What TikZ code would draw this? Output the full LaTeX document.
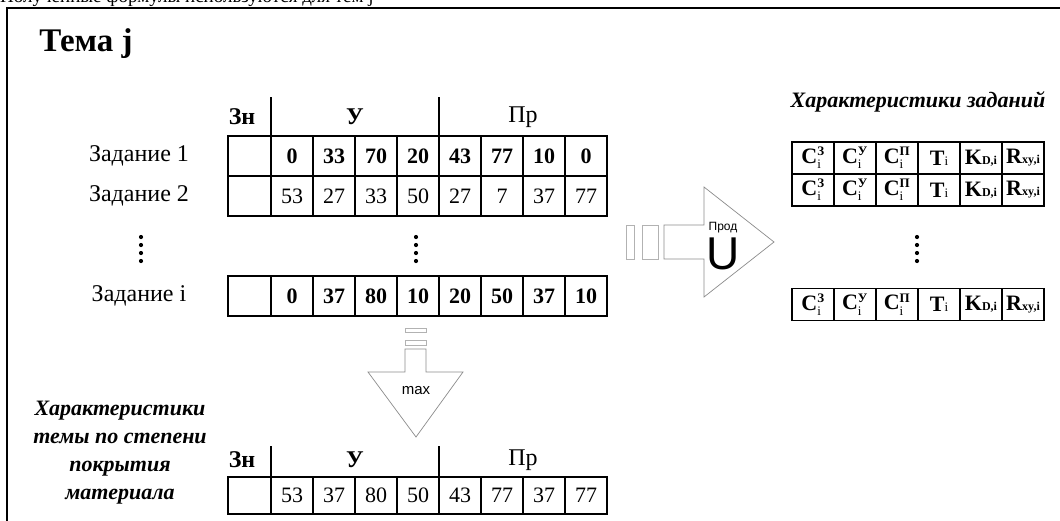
\documentclass[tikz,border=0pt]{standalone}
\usepackage{fontspec}
\setmainfont{Liberation Serif}
\newfontfamily\sansf{Liberation Sans}
\newcommand\numfont{\fontsize{22}{22}\selectfont}
\newcommand\labfont{\fontsize{24}{24}\selectfont}
\newcommand\smallf{\fontsize{13}{13}\selectfont}
\newcommand\tinyf{\fontsize{12}{12}\selectfont}
% bold C with a superscript letter and a subscript i
\newcommand\Cidx[1]{\textbf{C}\ensuremath{{}^{\hbox{\smallf\bfseries #1}}_{\hbox{\smallf i}}}}
\begin{document}
\begin{tikzpicture}[x=1pt,y=-1pt,
  cellbox/.style={draw,line width=1.6pt,minimum height=40,inner sep=0,font=\numfont},
  boldcell/.style={cellbox,font=\numfont\bfseries},
  charbox/.style={draw,line width=1.6pt,minimum width=42,minimum height=32,inner sep=0,font=\fontsize{22}{22}\selectfont},
  rowlabel/.style={font=\labfont},
  headlabel/.style={font=\labfont},
  blockarrow/.style={draw=black!45,line width=0.7pt,fill=white},
  stripe/.style={draw=black!30,line width=0.7pt},
  italhead/.style={font=\fontsize{22}{28}\selectfont\bfseries\itshape,align=center},
  dotmark/.style={fill=black,circle,inner sep=0,minimum size=4.2}]
\useasboundingbox (0,0) rectangle (1060,520);
\clip (0,0) rectangle (1060,520);
\fill[white] (0,0) rectangle (1060,520);

% running text of the page, cut by the top edge
\node[anchor=base west,font=\fontsize{19}{19}\selectfont,inner sep=0] (pagetext) at (0,2) {Полученные формулы используются для тем j};

% outer frame
\draw[line width=2.2pt] (7,540) -- (7,8) -- (1080,8);

\node[font=\fontsize{33}{33}\selectfont\bfseries] (title) at (86,44) {Тема j};

% ---------- task table ----------
\node[headlabel,font=\labfont\bfseries] (hZn) at (242,117) {Зн};
\node[headlabel,font=\labfont\bfseries] (hU) at (355,117) {У};
\node[headlabel] (hPr) at (523,117) {Пр};
\draw[line width=1.6pt] (271,97) -- (271,136);
\draw[line width=1.6pt] (439,97) -- (439,136);

\node[rowlabel] (lab1) at (139,156) {Задание 1};
\node[rowlabel] (lab2) at (139,196) {Задание 2};
\node[rowlabel] (labi) at (139,296) {Задание i};

\node[cellbox,minimum width=43] (r1-0) at (249.5,156) {};
\foreach \v [count=\k] in {0,33,70,20,43,77,10,0}
  \node[boldcell,minimum width=42] (r1-\k) at ({271+42*\k-21},156) {\v};
\node[cellbox,minimum width=43] (r2-0) at (249.5,196) {};
\foreach \v [count=\k] in {53,27,33,50,27,7,37,77}
  \node[cellbox,minimum width=42] (r2-\k) at ({271+42*\k-21},196) {\v};
\node[cellbox,minimum width=43] (ri-0) at (249.5,296) {};
\foreach \v [count=\k] in {0,37,80,10,20,50,37,10}
  \node[boldcell,minimum width=42] (ri-\k) at ({271+42*\k-21},296) {\v};

% vertical ellipses
\foreach \y [count=\k] in {237,245,253,261} {
  \node[dotmark] (dl\k) at (141,\y) {};
  \node[dotmark] (dm\k) at (416,\y) {};
  \node[dotmark] (dr\k) at (917,\y) {};
}

% ---------- downward arrow (max) ----------
\draw[stripe] (405,328) rectangle (426,332);
\draw[stripe] (405,340) rectangle (426,345);
\draw[blockarrow] (405,349) -- (405,372) -- (368,372) -- (416,437) -- (463,372) -- (426,372) -- (426,349) -- cycle;
\node[font=\sansf\fontsize{15}{15}\selectfont] (maxlab) at (416,391) {max};

% ---------- rightward arrow (union) ----------
\draw[stripe] (626,225) rectangle (634,259);
\draw[stripe] (642,225) rectangle (658,259);
\draw[blockarrow] (664,225) -- (704,225) -- (704,187) -- (774,242) -- (704,297) -- (704,259) -- (664,259) -- cycle;
\node[font=\sansf\fontsize{12}{12}\selectfont] (prod) at (723,228) {Прод};
\node[font=\sansf\fontsize{46}{46}\selectfont] (union) at (723,254) {U};

% ---------- task characteristics ----------
\node[italhead] (charhead) at (918,102) {Характеристики заданий};
\foreach \r/\y in {c1/158,c2/190,c3/304.5} {
  \node[charbox] (\r-1) at (813,\y) {\Cidx{З}};
  \node[charbox] (\r-2) at (855,\y) {\Cidx{У}};
  \node[charbox] (\r-3) at (897,\y) {\Cidx{П}};
  \node[charbox] (\r-4) at (939,\y) {\textbf{T}{\smallf i}};
  \node[charbox] (\r-5) at (981,\y) {\textbf{K}{\tinyf\bfseries D,i}};
  \node[charbox] (\r-6) at (1023,\y) {\textbf{R}{\tinyf\bfseries xy,i}};
}

% ---------- topic characteristics ----------
\node[italhead] (topichead) at (120,453) {Характеристики\\темы по степени\\покрытия\\материала};
\node[headlabel,font=\labfont\bfseries] (bZn) at (242,460) {Зн};
\node[headlabel,font=\labfont\bfseries] (bU) at (355,460) {У};
\node[headlabel] (bPr) at (523,460) {Пр};
\draw[line width=1.6pt] (271,446) -- (271,477);
\draw[line width=1.6pt] (439,446) -- (439,477);
\node[cellbox,minimum width=43,minimum height=37] (b-0) at (249.5,495.5) {};
\foreach \v [count=\k] in {53,37,80,50,43,77,37,77}
  \node[cellbox,minimum width=42,minimum height=37] (b-\k) at ({271+42*\k-21},495.5) {\v};
\end{tikzpicture}
\end{document}
